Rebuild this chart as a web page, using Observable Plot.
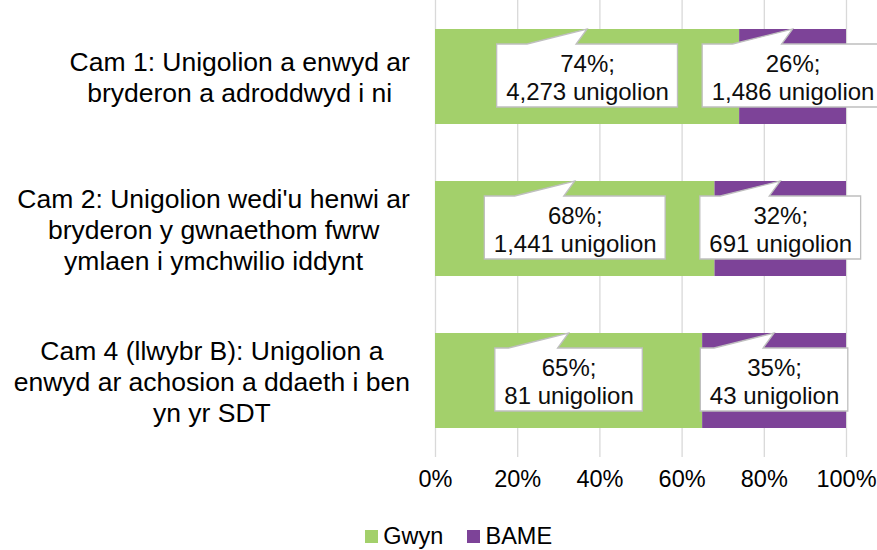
<!DOCTYPE html>
<html>
<head>
<meta charset="utf-8">
<script src="https://cdn.jsdelivr.net/npm/d3@7"></script>
<script src="https://cdn.jsdelivr.net/npm/@observablehq/plot@0.6"></script>
<style>
  html, body { margin: 0; padding: 0; background: #fff; }
  body { width: 877px; height: 550px; overflow: hidden; font-family: "Liberation Sans", Arial, sans-serif; }
  #legend { display: flex; align-items: center; height: 45px; box-sizing: border-box; padding-top: 17px; padding-left: 365px; font-size: 23.5px; line-height: 27px; color: #000; }
  #legend .item { display: flex; align-items: center; margin-right: 24px; }
  #legend .sw { width: 12.7px; height: 12.7px; margin-right: 5.5px; margin-top: 1px; }
</style>
</head>
<body>
<script>
const categories = [
  "Cam 1: Unigolion a enwyd ar\nbryderon a adroddwyd i ni",
  "Cam 2: Unigolion wedi'u henwi ar\nbryderon y gwnaethom fwrw\nymlaen i ymchwilio iddynt",
  "Cam 4 (llwybr B): Unigolion a\nenwyd ar achosion a ddaeth i ben\nyn yr SDT"
];
const groups = ["Gwyn", "BAME"];
const gwynPct = [74, 68, 65];
const bamePct = [26, 32, 35];
const gwynCount = ["4,273", "1,441", "81"];
const bameCount = ["1,486", "691", "43"];
const xTicks = [0, 20, 40, 60, 80, 100];
const colors = ["#a3d06b", "#7d4398"];

const rows = categories.flatMap((c, i) => [
  {cat: c, group: groups[0], value: gwynPct[i], count: gwynCount[i], mid: gwynPct[i] / 2},
  {cat: c, group: groups[1], value: bamePct[i], count: bameCount[i], mid: gwynPct[i] + bamePct[i] / 2}
]);

const font = "'Liberation Sans', Arial, sans-serif";

const plot = Plot.plot({
  width: 877,
  height: 505,
  marginLeft: 435,
  marginRight: 31,
  marginTop: 0,
  marginBottom: 48,
  style: {fontFamily: font, color: "#000", background: "#fff", overflow: "visible"},
  x: {domain: [0, 100]},
  y: {domain: categories, paddingInner: 0.375, paddingOuter: 0.1875},
  color: {domain: groups, range: colors},
  marks: [
    Plot.gridX(xTicks, {stroke: "#d9d9d9", strokeOpacity: 1, strokeWidth: 1.3}),
    Plot.barX(rows, {x: "value", y: "cat", fill: "group"}),
    Plot.axisX({ticks: xTicks, tickFormat: d => d + "%", tickSize: 0, tickPadding: 13, fontSize: 23.5, label: null}),
    Plot.axisY({tickSize: 0, tickPadding: 25, fontSize: 26.5, lineHeight: 1.17, textAnchor: "middle", label: null}),
    Plot.text(rows, {
      x: "mid", y: "cat",
      text: d => `${d.value}%;\n${d.count} unigolion`,
      fontSize: 24, lineHeight: 1.18, fill: "#0d0d0d", ariaLabel: "callout"
    })
  ]
});

document.body.append(plot);

const legend = document.createElement("div");
legend.id = "legend";
groups.forEach((g, i) => {
  const item = document.createElement("div");
  item.className = "item";
  const sw = document.createElement("span");
  sw.className = "sw";
  sw.style.background = colors[i];
  const lab = document.createElement("span");
  lab.textContent = g;
  item.append(sw, lab);
  legend.append(item);
});
document.body.append(legend);

// Post-layout adjustments
const svg = plot;
const svgRect = svg.getBoundingClientRect();
const xs = plot.scale("x"), ys = plot.scale("y");
const bw = ys.bandwidth;
const NS = "http://www.w3.org/2000/svg";

// Category labels: lines centered within block, block right-aligned
const yLabels = svg.querySelector('g[aria-label="y-axis tick label"]');
if (yLabels) {
  yLabels.querySelectorAll("text").forEach(t => {
    const r = t.getBoundingClientRect();
    const right = r.right - svgRect.left;
    const shift = 410 - right;
    const tr = t.getAttribute("transform") || "";
    t.setAttribute("transform", `${tr} translate(${shift},0)`);
  });
}

// Callout boxes
let calloutTexts = Array.from(svg.querySelectorAll("text")).filter(t => /unigolion/.test(t.textContent));
const calloutG = calloutTexts.length ? calloutTexts[0].parentNode : null;
if (calloutG) {
  calloutTexts.forEach((t, i) => {
    const d = rows[i];
    const r = t.getBoundingClientRect();
    const w = r.width + 18;
    const h = 63;
    const cx = xs.apply(d.mid);
    const top0 = ys.apply(d.cat);
    const cy = top0 + bw / 2 - 1;
    const bx = cx - w / 2;
    const by = cy - h / 2;
    const p = document.createElementNS(NS, "path");
    const dPath = [
      `M${bx},${by}`,
      `L${cx - 60},${by}`,
      `L${cx},${top0}`,
      `L${cx - 11},${by}`,
      `L${bx + w},${by}`,
      `L${bx + w},${by + h}`,
      `L${bx},${by + h}`,
      "Z"
    ].join(" ");
    p.setAttribute("d", dPath);
    p.setAttribute("fill", "#fff");
    p.setAttribute("stroke", "#bfbfbf");
    p.setAttribute("stroke-width", "1.3");
    p.setAttribute("stroke-linejoin", "miter");
    calloutG.parentNode.insertBefore(p, calloutG);
  });
}
</script>
</body>
</html>
